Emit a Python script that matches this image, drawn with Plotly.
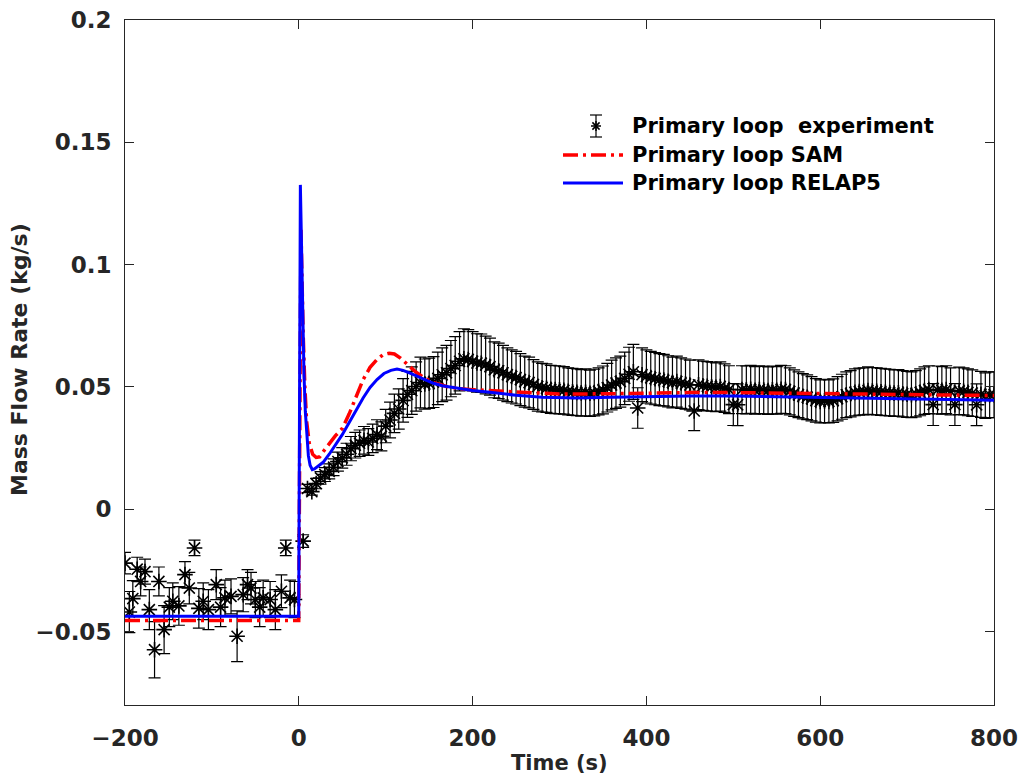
import plotly.graph_objects as go

# ---------------- data ----------------
exp_time = [
    -200, -195, -191, -186, -182, -177, -172, -166, -161, -155, -149, -145, -138, -131, -126, -120,
    -115, -110, -104, -95, -90, -85, -78, -71, -64, -59, -55, -50, -45, -41, -33, -27, -20, -15, -10, -5,
    5, 10, 15, 20, 25, 30, 35, 40, 45, 50, 55, 60, 65, 70, 75, 80, 85, 90, 95, 100,
    105, 110, 115, 120, 125, 130, 135, 140, 145, 150, 155, 160, 165, 170, 175, 180, 185, 190, 195, 200,
    205, 210, 215, 220, 225, 230, 235, 240, 245, 250, 255, 260, 265, 270, 275, 280, 285, 290, 295, 300,
    305, 310, 315, 320, 325, 330, 335, 340, 345, 350, 355, 360, 365, 370, 375, 380, 385, 390, 395, 400,
    405, 410, 415, 420, 425, 430, 435, 440, 445, 450, 455, 460, 465, 470, 475, 480, 485, 490, 495, 500,
    505, 510, 515, 520, 525, 530, 535, 540, 545, 550, 555, 560, 565, 570, 575, 580, 585, 590, 595, 600,
    605, 610, 615, 620, 625, 630, 635, 640, 645, 650, 655, 660, 665, 670, 675, 680, 685, 690, 695, 700,
    705, 710, 715, 720, 725, 730, 735, 740, 745, 750, 755, 760, 765, 770, 775, 780, 785, 790, 795, 800,
]
exp_flow = [
    -0.0220, -0.0420, -0.0365, -0.0245, -0.0295, -0.0255, -0.0410, -0.0574, -0.0295, -0.0492, -0.0400, -0.0376,
    -0.0395, -0.0267, -0.0322, -0.0158, -0.0405, -0.0376, -0.0410, -0.0308, -0.0400, -0.0362, -0.0356, -0.0519,
    -0.0349, -0.0308, -0.0322, -0.0369, -0.0400, -0.0362, -0.0369, -0.0410, -0.0335, -0.0158, -0.0362, -0.0369,
    -0.0130, 0.0085, 0.0072, 0.0105, 0.0128, 0.0142, 0.0155, 0.0172, 0.0195, 0.0210, 0.0225, 0.0248, 0.0262,
    0.0270, 0.0282, 0.0275, 0.0290, 0.0305, 0.0298, 0.0340,
    0.0365, 0.0392, 0.0410, 0.0445, 0.0470, 0.0485, 0.0502, 0.0518, 0.0512, 0.0515, 0.0520, 0.0535, 0.0550,
    0.0558, 0.0575, 0.0588, 0.0605, 0.0615, 0.0612, 0.0605,
    0.0598, 0.0597, 0.0590, 0.0583, 0.0570, 0.0566, 0.0558, 0.0550, 0.0543, 0.0538, 0.0530, 0.0522, 0.0518,
    0.0510, 0.0502, 0.0497, 0.0495, 0.0490, 0.0489, 0.0488,
    0.0486, 0.0482, 0.0480, 0.0478, 0.0476, 0.0478, 0.0474, 0.0477, 0.0482, 0.0488, 0.0497, 0.0508, 0.0516,
    0.0522, 0.0535, 0.0552, 0.0562, 0.0414, 0.0550, 0.0543,
    0.0538, 0.0534, 0.0530, 0.0528, 0.0523, 0.0518, 0.0522, 0.0516, 0.0512, 0.0508, 0.0402, 0.0509, 0.0505,
    0.0503, 0.0501, 0.0499, 0.0502, 0.0495, 0.0489, 0.0428,
    0.0427, 0.0489, 0.0488, 0.0490, 0.0486, 0.0489, 0.0487, 0.0485, 0.0488, 0.0486, 0.0490, 0.0489, 0.0482,
    0.0475, 0.0468, 0.0462, 0.0458, 0.0452, 0.0445, 0.0441,
    0.0443, 0.0441, 0.0444, 0.0452, 0.0460, 0.0468, 0.0472, 0.0478, 0.0481, 0.0482, 0.0485, 0.0483, 0.0482,
    0.0480, 0.0478, 0.0477, 0.0475, 0.0476, 0.0472, 0.0470,
    0.0468, 0.0472, 0.0478, 0.0485, 0.0489, 0.0428, 0.0488, 0.0486, 0.0489, 0.0482, 0.0428, 0.0484, 0.0482,
    0.0478, 0.0475, 0.0427, 0.0470, 0.0465, 0.0468, 0.0468,
]
exp_error_percent = 20

sam_time = [-200, -0.1, 2.5, 3.5, 5, 7, 9, 12, 16, 20, 24, 28, 35, 42, 50, 58, 66, 74, 82, 90, 97,
            104, 110, 117, 125, 135, 145, 155, 170, 185, 200, 220, 250, 300, 350, 400, 450, 500, 600, 700, 800]
sam_flow = [-0.0455, -0.0455, 0.1142, 0.0950, 0.0720, 0.0500, 0.0360, 0.0270, 0.0225, 0.0212, 0.0214,
            0.0235, 0.0270, 0.0300, 0.0330, 0.0390, 0.0460, 0.0530, 0.0580, 0.0612, 0.0632,
            0.0638, 0.0635, 0.0618, 0.0592, 0.0560, 0.0535, 0.0518, 0.0502, 0.0493, 0.0489, 0.0486,
            0.0480, 0.0471, 0.0472, 0.0475, 0.0477, 0.0477, 0.0473, 0.0469, 0.0465]

relap_time = [-200, -0.1, 1.8, 3, 4, 5, 6, 7.5, 9, 11, 13, 15.5, 18, 22, 28, 35, 42, 50, 58, 66, 74, 82,
              90, 98, 106, 113, 120, 128, 136, 145, 155, 165, 180, 200, 220, 250, 280, 320, 360, 400,
              450, 500, 600, 700, 800]
relap_flow = [-0.0437, -0.0437, 0.1326, 0.1100, 0.0900, 0.0700, 0.0550, 0.0400, 0.0300, 0.0220, 0.0180,
              0.0162, 0.0165, 0.0175, 0.0192, 0.0225, 0.0260, 0.0305, 0.0355, 0.0405, 0.0455, 0.0498,
              0.0530, 0.0555, 0.0568, 0.0573, 0.0568, 0.0557, 0.0545, 0.0531, 0.0515, 0.0505, 0.0496,
              0.0486, 0.0478, 0.0466, 0.0458, 0.0455, 0.0458, 0.0461, 0.0463, 0.0463, 0.0458, 0.0452, 0.0446]

legend_labels = ["Primary loop  experiment", "Primary loop SAM", "Primary loop RELAP5"]
x_ticks = [-200, 0, 200, 400, 600, 800]
x_ticktext = ["\u2212200", "0", "200", "400", "600", "800"]
y_ticks = [-0.05, 0, 0.05, 0.1, 0.15, 0.2]
y_ticktext = ["\u22120.05", "0", "0.05", "0.1", "0.15", "0.2"]

FONT = "DejaVu Sans"
INK = "#262626"
SAM_DASH = "15px,5px,3px,5px"

fig = go.Figure()
fig.add_trace(go.Scatter(
    x=exp_time, y=exp_flow, mode="markers", name=legend_labels[0],
    marker=dict(symbol="asterisk-open", size=13, color="black", line=dict(color="black", width=1.6)),
    error_y=dict(type="percent", value=exp_error_percent, color="black", thickness=1.2, width=6),
    showlegend=False,
))
fig.add_trace(go.Scatter(
    x=sam_time, y=sam_flow, mode="lines", name=legend_labels[1],
    line=dict(color="#ff0000", width=3.5, dash=SAM_DASH), showlegend=False,
))
fig.add_trace(go.Scatter(
    x=relap_time, y=relap_flow, mode="lines", name=legend_labels[2],
    line=dict(color="#0000ff", width=3), showlegend=False,
))

# ---------------- custom legend (MATLAB style) ----------------
PL, PR, PT, PB = 125, 994, 20, 705
W, H = PR - PL, PB - PT
def px(x):
    return (x - PL) / W
def py(y):
    return (PB - y) / H

rows = [126, 155, 183]
text_x = 630
key_x0, key_x1, key_c = 563, 623, 596
shapes = []
# experiment key: error bar + asterisk
shapes.append(dict(type="line", xref="paper", yref="paper", x0=px(key_c), x1=px(key_c),
                   y0=py(rows[0] - 11), y1=py(rows[0] + 11), line=dict(color="black", width=1.2)))
for dy in (-11, 11):
    shapes.append(dict(type="line", xref="paper", yref="paper", x0=px(key_c - 6), x1=px(key_c + 6),
                       y0=py(rows[0] + dy), y1=py(rows[0] + dy), line=dict(color="black", width=1.2)))
r = 5
for (dx, dy) in ((r, 0), (0, r), (r * 0.72, r * 0.72), (r * 0.72, -r * 0.72)):
    shapes.append(dict(type="line", xref="paper", yref="paper", x0=px(key_c - dx), x1=px(key_c + dx),
                       y0=py(rows[0] - dy), y1=py(rows[0] + dy), line=dict(color="black", width=1.5)))
shapes.append(dict(type="line", xref="paper", yref="paper", x0=px(key_x0), x1=px(key_x1),
                   y0=py(rows[1]), y1=py(rows[1]), line=dict(color="#ff0000", width=3.5, dash=SAM_DASH)))
shapes.append(dict(type="line", xref="paper", yref="paper", x0=px(key_x0), x1=px(key_x1),
                   y0=py(rows[2]), y1=py(rows[2]), line=dict(color="#0000ff", width=3)))

annotations = []
for lab, ry in zip(legend_labels, rows):
    annotations.append(dict(text=lab, xref="paper", yref="paper", x=px(text_x), y=py(ry),
                            xanchor="left", yanchor="middle", showarrow=False,
                            font=dict(family=FONT, size=21, color="black", weight="bold")))
# axis titles
annotations.append(dict(text="Time (s)", xref="paper", yref="paper", x=0.5, y=py(763),
                        xanchor="center", yanchor="middle", showarrow=False,
                        font=dict(family=FONT, size=21, color=INK, weight="bold")))
annotations.append(dict(text="Mass Flow Rate (kg/s)", xref="paper", yref="paper", x=px(20), y=py(360),
                        xanchor="center", yanchor="middle", showarrow=False, textangle=-90,
                        font=dict(family=FONT, size=22, color=INK, weight="bold")))

axis_common = dict(
    showgrid=False, zeroline=False, showline=True, linecolor=INK, linewidth=1,
    mirror="allticks", ticks="inside", ticklen=9, tickcolor=INK, tickwidth=1, automargin=False,
    tickfont=dict(family=FONT, size=23, color=INK, weight="bold"),
)
fig.update_xaxes(range=[-200, 800], tickvals=x_ticks, ticktext=x_ticktext, ticklabelstandoff=12, **axis_common)
fig.update_yaxes(range=[-0.08, 0.2], tickvals=y_ticks, ticktext=y_ticktext, ticklabelstandoff=8, **axis_common)

fig.update_layout(
    width=1021, height=776,
    margin=dict(l=PL, r=1021 - PR, t=PT, b=776 - PB, autoexpand=False),
    paper_bgcolor="white", plot_bgcolor="white",
    shapes=shapes, annotations=annotations, showlegend=False,
)
fig.write_html("out.html")
